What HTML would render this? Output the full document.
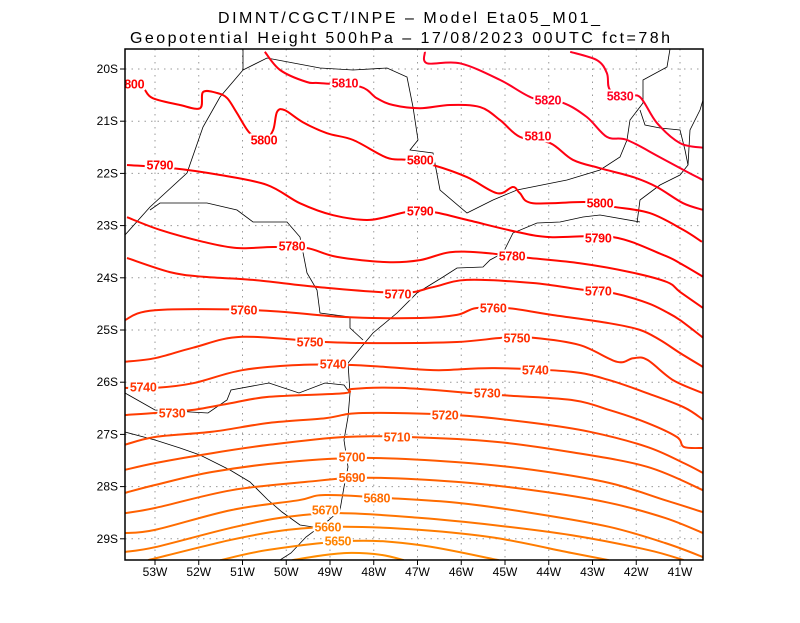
<!DOCTYPE html>
<html><head><meta charset="utf-8"><style>
body{margin:0;background:#fff;}
svg text{font-family:"Liberation Sans",sans-serif;}
</style></head><body>
<svg id="chart" width="800" height="618" viewBox="0 0 800 618" xmlns="http://www.w3.org/2000/svg">
<rect width="800" height="618" fill="#fff"/>
<text x="218" y="23" font-size="16" textLength="382" lengthAdjust="spacing">DIMNT/CGCT/INPE –  Model Eta05_M01_</text>
<text x="130" y="43" font-size="16" textLength="540" lengthAdjust="spacing">Geopotential Height 500hPa –  17/08/2023 00UTC fct=78h</text>
<defs><clipPath id="plotclip"><rect x="125" y="49" width="578" height="511"/></clipPath></defs>
<g id="grid"></g>
<g id="map" clip-path="url(#plotclip)" fill="none" stroke="#000" stroke-width="0.8">
<path d="M280,560 L291,553 L306,537 L329,520 L340,510 L344,487 L348,467 L344,440 L348,417 L350,393 L348,363 L373,333 L397,313 L417,293 L443,277 L457,268 L483,267 L490,260 L503,253 L513,233 L537,223 L560,222 L583,217 L600,215 L640,222"/>
<path d="M125,432 L155,440 L180,448 L200,455 L230,470 L250,482 L268,500 L282,512 L300,525 L320,528 L329,520"/>
<path d="M125,393 L155,410 L208,413 L227,400 L231,390 L269,383 L299,393 L325,383 L344,385 L350,393"/>
<path d="M150,210 L160,203 L193,203 L207,203 L237,210 L253,222 L287,222 L300,237 L307,273 L317,290 L320,313 L350,317 L350,328 L363,340"/>
<path d="M125,235 L150,207 L187,173 L203,127 L220,97 L243,70 L243,49"/>
<path d="M243,70 L267,58 L320,68 L353,70 L387,68 L407,77 L413,107 L418,140 L410,150 L433,153 L440,190 L467,213 L493,200 L517,190 L567,180 L600,170 L620,157 L627,140 L630,120 L643,103 L643,80 L667,67 L670,49"/>
<path d="M637,223 L640,200 L660,185 L680,175 L688,165 L690,130 L700,110 L703,100"/>
<path d="M640,110 L645,125 L660,128 L680,130 L685,150 L688,165"/>
</g>
<g id="contours" clip-path="url(#plotclip)"></g>
<g id="labels" clip-path="url(#plotclip)"></g>
<rect x="125" y="49" width="578" height="511" fill="none" stroke="#000" stroke-width="1.5"/>
<g id="axes"></g>
</svg>
<script>
const lonTicks = [-53,-52,-51,-50,-49,-48,-47,-46,-45,-44,-43,-42,-41];
const latTicks = [-20,-21,-22,-23,-24,-25,-26,-27,-28,-29];
const levels = [5830,5820,5810,5800,5790,5780,5770,5760,5750,5740,5730,5720,5710,5700,5690,5680,5670,5660,5650,5640];
const colors = ['#ff0022','#ff0022','#ff0010','#ff0000','#ff0000','#ff0a00','#ff1400','#ff2400','#ff2c00','#ff3400','#ff3c00','#ff4600','#ff5000','#ff5a00','#ff6000','#ff6c00','#ff7400','#ff7c00','#ff8400','#ff8c00'];
const c5830 = [[-43.51,-19.67],[-42.90,-19.83],[-42.67,-20.08],[-42.60,-20.40],[-42.2,-20.53],[-41.91,-20.54],[-41.53,-21.03],[-41.00,-21.42],[-40.47,-21.51]];
const c5820 = [[-46.83,-19.67],[-46.78,-19.89],[-46.03,-19.89],[-45.11,-20.21],[-44.36,-20.56],[-43.67,-20.65],[-43.13,-20.92],[-42.67,-21.30],[-42.21,-21.36],[-41.46,-21.69],[-40.93,-21.93],[-40.47,-22.13]];
const c5810 = [[-50.49,-19.67],[-50.14,-20.02],[-49.53,-20.25],[-49.23,-20.27],[-48.31,-20.34],[-47.93,-20.56],[-47.56,-20.69],[-46.94,-20.75],[-46.26,-20.69],[-45.57,-20.73],[-45.11,-20.98],[-44.66,-21.30],[-43.97,-21.42],[-43.45,-21.74],[-42.83,-21.90],[-42.07,-22.07],[-41.53,-22.26],[-40.93,-22.57],[-40.47,-22.70]];
const c5800 = [[-53.23,-20.40],[-53.05,-20.56],[-52.43,-20.69],[-51.97,-20.75],[-51.90,-20.44],[-51.58,-20.46],[-51.35,-20.56],[-51.13,-20.84],[-50.83,-21.23],[-50.5,-21.36],[-50.30,-21.17],[-50.21,-20.82],[-50.03,-20.79],[-49.62,-21.02],[-49.07,-21.23],[-48.47,-21.36],[-47.70,-21.70],[-47.24,-21.74],[-46.65,-21.84],[-45.87,-22.07],[-45.18,-22.38],[-44.82,-22.26],[-44.66,-22.38],[-44.36,-22.57],[-43.13,-22.55],[-42.53,-22.64],[-41.69,-22.76],[-40.93,-23.08],[-40.50,-23.31]];
const c5790 = [[-53.64,-21.84],[-52.59,-21.90],[-51.51,-22.03],[-50.44,-22.22],[-49.69,-22.57],[-48.93,-22.80],[-48.09,-22.89],[-47.24,-22.74],[-46.65,-22.74],[-45.87,-22.89],[-44.73,-23.12],[-43.97,-23.22],[-42.53,-23.22],[-41.39,-23.56],[-41.00,-23.72],[-40.47,-23.98]];
const c5780 = [[-53.64,-22.84],[-52.89,-23.08],[-51.90,-23.31],[-51.13,-23.43],[-50.30,-23.41],[-49.53,-23.43],[-48.84,-23.60],[-47.70,-23.70],[-46.94,-23.66],[-46.26,-23.51],[-45.50,-23.52],[-44.43,-23.62],[-43.29,-23.72],[-42.14,-23.89],[-41.30,-24.08],[-41.00,-24.27],[-40.47,-24.58]];
const c5770 = [[-53.64,-23.62],[-52.66,-23.89],[-51.90,-23.98],[-50.76,-24.04],[-49.23,-24.18],[-47.40,-24.29],[-46.65,-24.18],[-45.87,-24.04],[-44.36,-24.10],[-43.22,-24.23],[-42.55,-24.29],[-41.75,-24.48],[-41.30,-24.66],[-41.00,-24.81],[-40.47,-25.15]];
const c5760 = [[-53.69,-24.81],[-53.00,-24.62],[-50.67,-24.62],[-48.68,-24.75],[-46.94,-24.77],[-46.10,-24.71],[-45.66,-24.58],[-44.95,-24.58],[-43.93,-24.71],[-42.62,-24.87],[-41.91,-25.00],[-41.46,-25.19],[-41.00,-25.44],[-40.47,-25.71]];
const c5750 = [[-53.69,-25.61],[-53.00,-25.54],[-52.13,-25.34],[-51.01,-25.13],[-49.11,-25.23],[-47.81,-25.25],[-46.10,-25.23],[-45.05,-25.15],[-44.36,-25.15],[-43.29,-25.29],[-42.44,-25.61],[-42.07,-25.54],[-41.75,-25.57],[-41.16,-25.96],[-40.47,-26.21]];
const c5740 = [[-53.69,-26.11],[-53.00,-26.11],[-52.13,-26.02],[-51.01,-25.77],[-49.71,-25.67],[-48.50,-25.67],[-47.38,-25.73],[-46.51,-25.77],[-45.23,-25.73],[-43.49,-25.80],[-42.62,-25.96],[-41.75,-26.21],[-40.91,-26.48],[-40.47,-26.72]];
const c5730 = [[-53.69,-26.63],[-53.00,-26.59],[-52.13,-26.53],[-51.26,-26.40],[-50.39,-26.28],[-48.68,-26.21],[-48.50,-26.13],[-47.38,-26.11],[-45.73,-26.21],[-45.05,-26.25],[-43.49,-26.34],[-42.62,-26.53],[-41.75,-26.78],[-41.07,-27.05],[-40.91,-27.24],[-40.47,-27.26]];
const c5720 = [[-53.69,-27.20],[-53.00,-27.05],[-51.70,-26.95],[-50.39,-26.78],[-49.11,-26.69],[-48.25,-26.59],[-46.10,-26.63],[-44.36,-26.78],[-43.06,-26.95],[-41.75,-27.24],[-40.91,-27.55],[-40.47,-27.74]];
const c5710 = [[-53.69,-27.68],[-53.00,-27.55],[-51.70,-27.36],[-50.39,-27.20],[-48.68,-27.05],[-47.22,-27.05],[-45.23,-27.14],[-43.49,-27.34],[-41.75,-27.62],[-40.47,-28.07]];
const c5700 = [[-53.69,-28.12],[-53.00,-27.97],[-51.70,-27.72],[-49.98,-27.53],[-48.18,-27.45],[-46.10,-27.53],[-44.36,-27.68],[-42.62,-27.93],[-41.34,-28.26],[-40.47,-28.49]];
const c5690 = [[-53.69,-28.51],[-53.00,-28.41],[-51.26,-28.07],[-49.55,-27.91],[-48.18,-27.83],[-46.10,-27.91],[-44.36,-28.07],[-42.62,-28.31],[-41.34,-28.60],[-40.47,-28.89]];
const c5680 = [[-53.69,-28.89],[-53.00,-28.83],[-51.26,-28.45],[-49.71,-28.26],[-49.11,-28.16],[-47.66,-28.22],[-46.10,-28.31],[-44.36,-28.51],[-42.62,-28.77],[-41.34,-29.08],[-40.47,-29.35]];
const c5670 = [[-53.69,-29.25],[-53.00,-29.16],[-51.26,-28.79],[-49.98,-28.58],[-48.68,-28.51],[-46.94,-28.60],[-45.23,-28.74],[-43.49,-28.93],[-41.75,-29.21],[-40.91,-29.41]];
const c5660 = [[-53.16,-29.41],[-51.26,-29.02],[-49.98,-28.83],[-48.68,-28.77],[-46.94,-28.83],[-45.23,-28.98],[-43.49,-29.27],[-42.62,-29.41]];
const c5650 = [[-51.51,-29.41],[-50.39,-29.21],[-48.50,-29.04],[-46.94,-29.12],[-45.14,-29.41]];
const c5640 = [[-49.87,-29.41],[-49.11,-29.31],[-48.50,-29.27],[-47.81,-29.31],[-47.31,-29.41]];
const contourLines = [c5830,c5820,c5810,c5800,c5790,c5780,c5770,c5760,c5750,c5740,c5730,c5720,c5710,c5700,c5690,c5680,c5670,c5660,c5650,c5640];
const labelPositions = [
 [[-42.37,-20.52]],
 [[-44.02,-20.59]],
 [[-48.66,-20.27],[-44.25,-21.28]],
 [[-53.55,-20.29],[-50.51,-21.36],[-46.94,-21.74],[-42.83,-22.57]],
 [[-52.89,-21.84],[-46.94,-22.72],[-42.87,-23.24]],
 [[-49.87,-23.39],[-44.84,-23.58]],
 [[-47.45,-24.31],[-42.87,-24.25]],
 [[-50.97,-24.62],[-45.27,-24.58]],
 [[-49.46,-25.23],[-44.73,-25.15]],
 [[-53.27,-26.09],[-48.93,-25.65],[-44.31,-25.77]],
 [[-52.61,-26.59],[-45.41,-26.21]],
 [[-46.37,-26.63]],
 [[-47.47,-27.05]],
 [[-48.50,-27.43]],
 [[-48.50,-27.83]],
 [[-47.93,-28.22]],
 [[-49.11,-28.45]],
 [[-49.05,-28.77]],
 [[-48.82,-29.04]],
 []
];
const NS='http://www.w3.org/2000/svg';
function xScale(lon){return 155+(lon+53)*43.75;}
function yScale(lat){return 69+(-20-lat)*52.2;}
function mk(tag,attrs,parent){const e=document.createElementNS(NS,tag);for(const k in attrs)e.setAttribute(k,attrs[k]);parent.appendChild(e);return e;}
const grid=document.getElementById('grid'), axes=document.getElementById('axes');
lonTicks.forEach(lon=>{
  const x=xScale(lon);
  const gl=mk('line',{x1:x,y1:49,x2:x,y2:560,stroke:'#999','stroke-width':1,'stroke-dasharray':'1.5,5'},grid);
  
  
  const t=mk('line',{x1:x,y1:560,x2:x,y2:565,stroke:'#000','stroke-width':1},axes);
  
  
  const tx=mk('text',{x:x,y:576,'text-anchor':'middle','font-size':12},axes);
  tx.textContent=Math.abs(lon)+'W';
  
  
});
latTicks.forEach(lat=>{
  const y=yScale(lat);
  const gl=mk('line',{x1:125,y1:y,x2:703,y2:y,stroke:'#999','stroke-width':1,'stroke-dasharray':'1.5,5'},grid);
  
  
  const t=mk('line',{x1:120,y1:y,x2:125,y2:y,stroke:'#000','stroke-width':1},axes);
  
  
  const tx=mk('text',{x:118,y:y+4,'text-anchor':'end','font-size':12},axes);
  tx.textContent=Math.abs(lat)+'S';
  
  
});
function smoothPath(pts){
  const p=pts.map(q=>[xScale(q[0]),yScale(q[1])]);
  let d='M'+p[0][0].toFixed(1)+','+p[0][1].toFixed(1);
  for(let i=0;i<p.length-1;i++){
    const p0=p[i-1]||p[i],p1=p[i],p2=p[i+1],p3=p[i+2]||p2;
    const c1=[p1[0]+(p2[0]-p0[0])/6,p1[1]+(p2[1]-p0[1])/6];
    const c2=[p2[0]-(p3[0]-p1[0])/6,p2[1]-(p3[1]-p1[1])/6];
    d+=' C'+c1[0].toFixed(1)+','+c1[1].toFixed(1)+' '+c2[0].toFixed(1)+','+c2[1].toFixed(1)+' '+p2[0].toFixed(1)+','+p2[1].toFixed(1);
  }
  return d;
}
const cg=document.getElementById('contours'), lg=document.getElementById('labels');
contourLines.forEach((pts,i)=>{
  const path=mk('path',{d:smoothPath(pts),fill:'none',stroke:colors[i],'stroke-width':2,'stroke-linejoin':'round'},cg);
  
  
  labelPositions[i].forEach(lp=>{
    const t=mk('text',{x:xScale(lp[0]),y:yScale(lp[1])+4.5,'text-anchor':'middle','font-size':12.5,'font-weight':'bold',fill:colors[i],stroke:'#fff','stroke-width':4,'paint-order':'stroke','letter-spacing':'-0.3'},lg);
    t.textContent=levels[i];
    
    
  });
});
</script>
</body></html>
